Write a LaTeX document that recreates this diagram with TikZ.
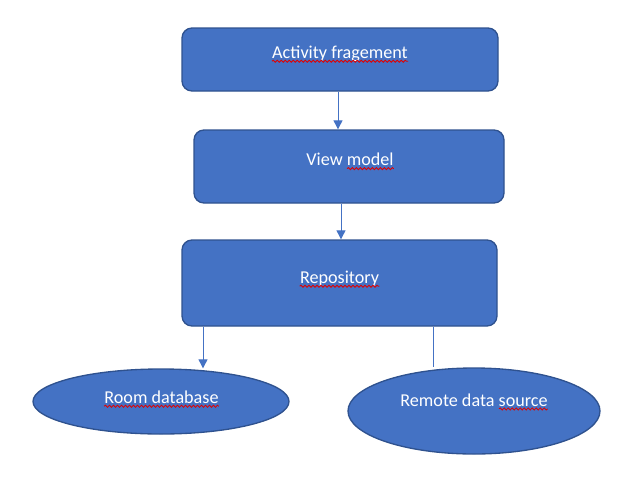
\documentclass[tikz,border=0pt]{standalone}
\usepackage{fontspec}
\setmainfont{Carlito}
\usetikzlibrary{arrows.meta,shapes.geometric,decorations.pathmorphing}
\definecolor{boxfill}{HTML}{4472C4}
\definecolor{boxline}{HTML}{2F528F}
\definecolor{squigred}{HTML}{E00000}
\tikzset{
  box/.style={draw=boxline, fill=boxfill, line width=1pt, rounded corners=7.5pt, inner sep=0pt},
  oval/.style={ellipse, draw=boxline, fill=boxfill, line width=1pt, inner sep=0pt},
  lbl/.style={text=white, anchor=base, inner sep=0pt},
  arr/.style={draw=boxfill, line width=0.75pt, -{Triangle[width=6.75pt,length=6.75pt]}},
  plain/.style={draw=boxfill, line width=0.75pt},
  squig/.style={draw=squigred, line width=0.6pt, decorate, decoration={snake, amplitude=0.8pt, segment length=3pt}}
}
\begin{document}
\begin{tikzpicture}[x=0.75pt, y=-0.75pt]
\fontsize{13.6}{16}\selectfont
\useasboundingbox (0,0) rectangle (640,483);
% boxes
\node[box, minimum width=237pt, minimum height=47.25pt] (b1) at (340,59.5) {};
\node[box, minimum width=232.5pt, minimum height=54.75pt] (b2) at (349,166.5) {};
\node[box, minimum width=236.25pt, minimum height=64.5pt] (b3) at (339.5,283) {};
\node[oval, minimum width=192pt, minimum height=48.75pt] (e1) at (161,401.5) {};
\node[oval, minimum width=189pt, minimum height=64.5pt] (e2) at (474,411) {};
% labels
\node[lbl] (t1) at (340,58.3) {Activity fragement};
\node[lbl] (t2) at (350,165.7) {View model};
\node[lbl] (t3) at (339.5,283.3) {Repository};
\node[lbl] (t4) at (161.5,403.3) {Room database};
\node[lbl] (t5) at (474,406) {Remote data source};
% spell-check squiggles
\draw[squig] ([yshift=-2.2pt]t1.base west) -- ([yshift=-2.2pt]t1.base east);
\draw[squig] ([xshift={-width("model")}, yshift=-2.2pt]t2.base east) -- ([yshift=-2.2pt]t2.base east);
\draw[squig] ([yshift=-2.2pt]t3.base west) -- ([yshift=-2.2pt]t3.base east);
\draw[squig] ([yshift=-2.2pt]t4.base west) -- ([yshift=-2.2pt]t4.base east);
\draw[squig] ([xshift={-width("source")}, yshift=-2.2pt]t5.base east) -- ([yshift=-2.2pt]t5.base east);
% connectors
\coordinate (x1) at (338,0);
\coordinate (x2) at (341,0);
\coordinate (x3) at (203,0);
\coordinate (x4) at (433,0);
\draw[arr] (b1.south -| x1) -- (b2.north -| x1);
\draw[arr] (b2.south -| x2) -- (b3.north -| x2);
\draw[arr] (b3.south -| x3) -- (e1.north -| x3);
\draw[plain] (b3.south -| x4) -- (e2.north -| x4);
\end{tikzpicture}
\end{document}
